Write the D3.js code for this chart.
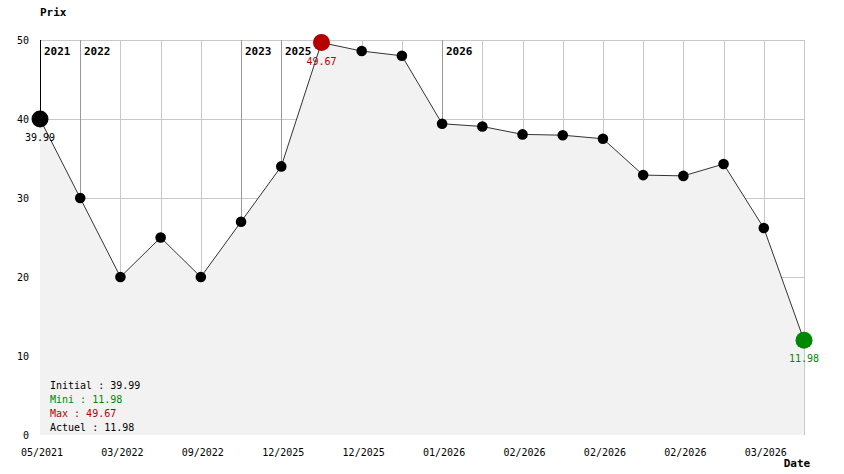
<!DOCTYPE html>
<html><head><meta charset="utf-8">
<script src="https://cdn.jsdelivr.net/npm/d3@7"></script>
<style>
html,body{margin:0;padding:0;background:#fff;}
svg{display:block;}
text{font-family:"DejaVu Sans Mono",monospace;}
</style></head>
<body><svg id="c" width="844" height="474"></svg>
<script>
const dates = ["05/2021","01/2022","03/2022","06/2022","09/2022","05/2023","12/2025","12/2025","12/2025","12/2025",
               "01/2026","01/2026","02/2026","02/2026","02/2026","02/2026","02/2026","03/2026","03/2026","03/2026"];
const prices = [39.99,30,20,25,20,27,34,49.67,48.6,48.0,39.4,39.05,38.05,37.95,37.5,32.9,32.8,34.3,26.2,11.98];
const yTicks = [0,10,20,30,40,50];
const legendLabels = ["Initial","Mini","Max","Actuel"];

const svg = d3.select("#c");
const W=844,H=474, L=40, R=804, T=40, B=435;
const x = d3.scaleLinear().domain([0, prices.length-1]).range([L,R]);
const y = d3.scaleLinear().domain([0,50]).range([B,T]);
const red="#b40000", green="#008800";

const data = prices.map((v,i)=>({i, v, d:dates[i], yr:dates[i].split("/")[1]}));
const iMax = d3.maxIndex(prices), iMin = d3.minIndex(prices);

// grid
const g = svg.append("g");
g.selectAll("line.h").data(yTicks.filter(t=>t>0)).join("line")
  .attr("x1",L).attr("x2",R+0.5).attr("y1",d=>Math.round(y(d))+0.5).attr("y2",d=>Math.round(y(d))+0.5)
  .attr("stroke","#c8c8c8").attr("stroke-width",1);
const yearStart = data.filter((d,k)=>k===0 || d.yr!==data[k-1].yr);
g.selectAll("line.v").data(data).join("line")
  .attr("x1",d=>Math.round(x(d.i))+0.5).attr("x2",d=>Math.round(x(d.i))+0.5)
  .attr("y1",T).attr("y2",B)
  .attr("stroke",d=>yearStart.includes(d) ? (d.i===0?"#000":"#999") : "#c8c8c8").attr("stroke-width",1);

// area
const area = d3.area().x(d=>x(d.i)).y0(B).y1(d=>y(d.v));
svg.append("path").datum(data).attr("d",area).attr("fill","#f2f2f2");

// year labels
svg.selectAll("text.yr").data(yearStart).join("text")
  .attr("x",d=>Math.round(x(d.i))+4).attr("y",55)
  .attr("font-size","11px").attr("font-weight","bold").attr("fill","#000").text(d=>d.yr);

// line
const line = d3.line().x(d=>x(d.i)).y(d=>y(d.v));
svg.append("path").datum(data).attr("d",line).attr("fill","none").attr("stroke","#333").attr("stroke-width",1);

// points
svg.selectAll("circle").data(data).join("circle")
  .attr("cx",d=>x(d.i)).attr("cy",d=>y(d.v))
  .attr("r",d=>(d.i===0||d.i===iMax||d.i===iMin)?8.5:5.3)
  .attr("fill",d=>d.i===iMax?red:(d.i===iMin?green:"#000"));

// point labels
const special=[{i:0,c:"#000"},{i:iMax,c:red},{i:iMin,c:green}];
svg.selectAll("text.pl").data(special).join("text")
  .attr("x",d=>x(d.i)).attr("y",d=>y(prices[d.i])+22).attr("text-anchor","middle")
  .attr("font-size","10px").attr("fill",d=>d.c).text(d=>prices[d.i].toFixed(2));

// y axis labels
svg.selectAll("text.yt").data(yTicks).join("text")
  .attr("x",29).attr("y",d=>y(d)+4).attr("text-anchor","end")
  .attr("font-size","10px").attr("fill","#000").text(d=>d);

// x axis labels
svg.selectAll("text.xt").data(data.filter(d=>d.i%2===0)).join("text")
  .attr("x",d=>x(d.i)+2).attr("y",456).attr("text-anchor","middle")
  .attr("font-size","10px").attr("fill","#000").text(d=>d.d);

// titles
svg.append("text").attr("x",40).attr("y",16).attr("font-size","11px").attr("font-weight","bold").text("Prix");
svg.append("text").attr("x",797).attr("y",467).attr("text-anchor","middle").attr("font-size","11px").attr("font-weight","bold").text("Date");

// legend
const legVals=[prices[0], prices[iMin], prices[iMax], prices[prices.length-1]];
const legCols=["#000",green,red,"#000"];
svg.selectAll("text.lg").data(legendLabels).join("text")
  .attr("x",50).attr("y",(d,k)=>389+k*14)
  .attr("font-size","10px").attr("fill",(d,k)=>legCols[k])
  .text((d,k)=>d+" : "+legVals[k].toFixed(2));
</script></body></html>
